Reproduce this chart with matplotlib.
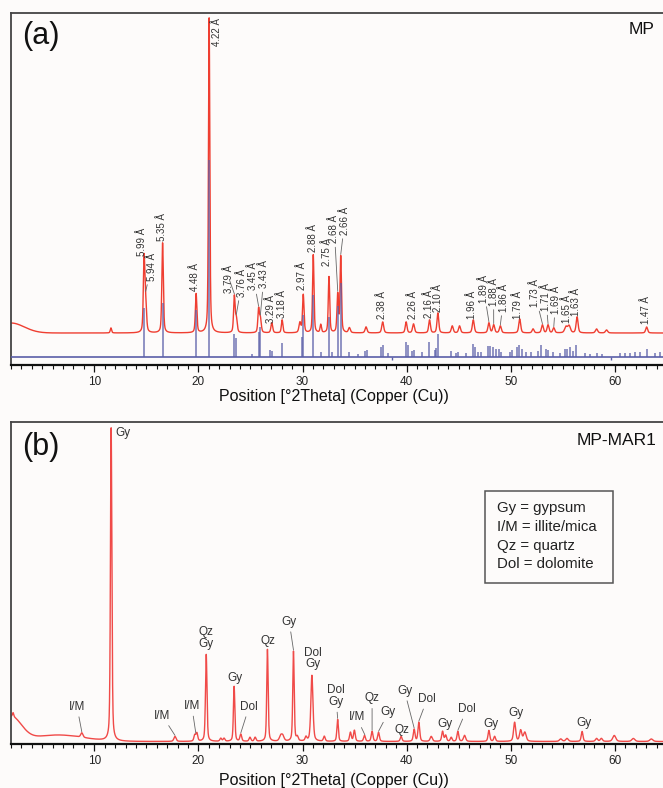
import numpy as np
import matplotlib
matplotlib.use('Agg')
import matplotlib.pyplot as plt
from matplotlib.patches import Rectangle
from matplotlib.ticker import MultipleLocator

plt.rcParams['font.family'] = ['Liberation Sans', 'DejaVu Sans']

W, H = 663, 788
BG = '#fdfbfa'
RED_A = '#ef3e31'
RED_B = '#f04a48'
BLUE = '#5a5ea8'
TXT = '#333333'
LEAD = '#666666'

# ---------------- Panel (a) : MP ----------------
a_base = 32            # red trace baseline (intensity units)
a_bg_pos = [2.0]
a_bg_int = [10]
a_bg_wid = [3.0]
a_peak_pos = [11.6, 14.78, 14.93, 16.56, 19.78, 21.03, 23.45, 23.64, 25.78, 25.95,
              27.05, 28.04, 29.75, 30.07, 31.03, 31.75, 32.54, 33.38, 33.67, 34.5,
              36.1, 37.7, 39.95, 40.66, 42.2, 43.0, 44.38, 45.08, 46.4, 47.9,
              48.36, 49.0, 50.86, 52.14, 53.04, 53.58, 54.13, 55.3, 55.6, 56.37,
              58.24, 59.2, 63.05]
a_peak_int = [5, 72, 28, 90, 39, 315, 36, 14, 23, 14,
              10, 13, 10, 38, 78, 8, 56, 38, 76, 5,
              6, 11, 11, 9, 13, 20, 7, 7, 13, 10,
              8, 7, 14, 4, 8, 8, 5, 6, 7, 16,
              4, 3, 6]
a_peak_wid = [0.15, 0.17, 0.2, 0.17, 0.17, 0.15, 0.17, 0.2, 0.17, 0.2,
              0.2, 0.17, 0.22, 0.17, 0.16, 0.16, 0.16, 0.17, 0.16, 0.22,
              0.22, 0.22, 0.2, 0.22, 0.2, 0.2, 0.22, 0.22, 0.22, 0.22,
              0.22, 0.22, 0.22, 0.22, 0.22, 0.22, 0.22, 0.3, 0.3, 0.22,
              0.25, 0.25, 0.22]

a_stick_base = 8
a_stick_pos = [14.78, 16.56, 19.80, 21.04, 23.45, 23.64, 25.1, 25.80, 25.95, 26.85,
               27.05, 28.04, 29.95, 30.07, 31.03, 31.74, 32.54, 32.8, 33.41, 33.67,
               34.49, 35.3, 36.03, 36.16, 37.54, 37.77, 38.18, 39.9, 40.1, 40.54,
               40.66, 41.49, 42.19, 42.68, 42.84, 43.0, 44.28, 44.76, 44.92, 45.73,
               46.36, 46.52, 46.84, 47.16, 47.8, 48.04, 48.3, 48.6, 48.86, 49.1,
               49.9, 50.16, 50.55, 50.8, 51.03, 51.5, 51.99, 52.6, 52.95, 53.43,
               53.58, 54.07, 54.7, 55.19, 55.41, 55.67, 55.93, 56.31, 57.11, 57.6,
               58.24, 58.72, 60.48, 60.97, 61.45, 61.93, 62.4, 63.05, 63.85, 64.3]
a_stick_int = [49, 54, 47, 197, 23, 19, 3, 25, 30, 7,
               6, 14, 20, 42, 62, 5, 40, 5, 51, 74,
               5, 3, 6, 7, 10, 12, 4, 15, 12, 6,
               7, 5, 15, 7, 9, 23, 6, 4, 5, 4,
               13, 10, 5, 5, 11, 11, 10, 8, 8, 5,
               5, 7, 10, 12, 8, 5, 5, 6, 12, 8,
               7, 5, 4, 8, 8, 10, 6, 12, 4, 3,
               4, 3, 4, 4, 4, 5, 5, 8, 4, 5]
a_sub_pos = [38.6, 59.6]

a_lab_text = ['5.99 Å', '5.94 Å', '5.35 Å', '4.48 Å', '4.22 Å', '3.79 Å', '3.76 Å',
              '3.45 Å', '3.43 Å', '3.29 Å', '3.18 Å', '2.97 Å', '2.88 Å', '2.75 Å',
              '2.68 Å', '2.66 Å', '2.38 Å', '2.26 Å', '2.16 Å', '2.10 Å', '1.96 Å',
              '1.89 Å', '1.88 Å', '1.86 Å', '1.79 Å', '1.73 Å', '1.71 Å', '1.69 Å',
              '1.65 Å', '1.63 Å', '1.47 Å']
a_lab_peak = [14.78, 14.93, 16.56, 19.78, 21.03, 23.45, 23.64, 25.78, 25.95, 27.05,
              28.04, 30.07, 31.03, 32.54, 33.38, 33.67, 37.7, 40.66, 42.2, 43.0,
              46.4, 47.9, 48.36, 49.0, 50.86, 53.04, 53.58, 54.13, 55.45, 56.37, 63.05]
a_lab_tx = [14.54, 15.51, 16.47, 19.67, 21.79, 22.95, 24.17, 25.26, 26.32, 26.96,
            28.02, 29.94, 30.96, 32.31, 33.05, 34.06, 37.64, 40.59, 42.13, 42.99,
            46.3, 47.39, 48.35, 49.32, 50.69, 52.3, 53.36, 54.32, 55.41, 56.31, 62.98]
a_lab_ty = [123, 98.5, 138, 88, 332.5, 86, 82.5, 89, 91, 56.5,
            61.5, 89, 126.5, 112.5, 136, 144.5, 60, 60, 61.5, 67.5,
            60, 76.5, 73.5, 67.5, 60, 72, 68, 65.5, 56.5, 63, 55]
a_lab_lead = [False, True, False, False, False, True, True, True, True, False,
              False, False, False, False, True, True, False, False, False, False,
              False, True, True, True, False, True, True, True, False, False, False]

# ---------------- Panel (b) : MP-MAR1 ----------------
b_base = 2
b_bg_pos = [2.0, 6.5]
b_bg_int = [24, 6.5]
b_bg_wid = [2.35, 5.65]
b_peak_pos = [2.2, 8.8, 11.62, 17.75, 19.65, 19.85, 20.75, 22.15, 22.46, 23.43,
              24.07, 24.95, 25.45, 26.63, 27.9, 28.1, 29.13, 29.5, 30.33, 30.9,
              32.09, 33.37, 34.6, 34.98, 35.95, 36.68, 37.3, 39.47, 40.72, 41.17,
              42.36, 43.45, 43.75, 44.28, 44.92, 45.56, 47.9, 48.45, 50.37, 50.95,
              51.35, 54.8, 55.4, 56.85, 58.24, 58.7, 59.94, 61.77, 63.5]
b_peak_int = [4, 4.5, 313, 5, 6, 8, 87, 3, 3, 55,
              7, 4, 4, 92, 5, 5, 90, 4, 4, 66,
              5, 22, 9, 11, 6, 10, 9, 5, 12, 19,
              5, 10, 6, 4, 10, 6, 11, 5, 19, 11,
              9, 2.5, 3, 10, 3, 3, 6, 3, 2.5]
b_peak_wid = [0.15, 0.25, 0.16, 0.25, 0.2, 0.2, 0.17, 0.2, 0.2, 0.16,
              0.2, 0.2, 0.2, 0.16, 0.3, 0.3, 0.16, 0.2, 0.2, 0.24,
              0.2, 0.17, 0.2, 0.2, 0.2, 0.2, 0.2, 0.2, 0.2, 0.2,
              0.25, 0.2, 0.2, 0.2, 0.2, 0.25, 0.2, 0.2, 0.24, 0.25,
              0.3, 0.3, 0.3, 0.2, 0.25, 0.25, 0.35, 0.35, 0.35]

b_lab_text = ['Gy', 'I/M', 'I/M', 'I/M', 'Qz\nGy', 'Gy', 'Dol', 'Qz', 'Gy', 'Dol\nGy',
              'Dol\nGy', 'I/M', 'Qz', 'Gy', 'Qz', 'Gy', 'Dol', 'Gy', 'Dol', 'Gy',
              'Gy', 'Gy']
b_lab_peak = [11.62, 8.8, 17.75, 19.75, 20.75, 23.43, 24.07, 26.63, 29.13, 30.9,
              33.37, 35.98, 36.68, 37.3, 39.47, 40.72, 41.17, 43.45, 44.92, 47.9,
              50.37, 56.85]
b_lab_tx = [12.74, 8.34, 16.53, 19.36, 20.7, 23.52, 24.87, 26.7, 28.72, 31.03,
            33.21, 35.2, 36.68, 38.25, 39.57, 39.79, 41.97, 43.7, 45.78, 48.13,
            50.54, 57.02]
b_lab_ty = [310.5, 36.8, 27.8, 37.5, 106, 65.2, 36.8, 102.5, 121.8, 85,
            47.5, 26, 45.2, 31.2, 13.5, 52.8, 44.5, 19.5, 34.5, 19.5,
            30.2, 20.2]
b_lab_lead = [False, True, True, True, False, False, True, False, True, False,
              True, True, True, True, False, True, True, False, True, False,
              False, False]

legend_lines = ['Gy = gypsum', 'I/M = illite/mica', 'Qz = quartz', 'Dol = dolomite']

x_min, x_max = 2.0, 64.62
tt = np.arange(x_min, x_max + 0.005, 0.01)


def profile(x, base, bgp, bgi, bgw, pp, pi, pw, eta=0.45):
    y = np.full_like(x, float(base))
    for p, i, w in zip(bgp, bgi, bgw):
        y += i * np.exp(-4 * np.log(2) * ((x - p) / w) ** 2)
    for p, i, w in zip(pp, pi, pw):
        d = (x - p) / w
        y += i * ((1 - eta) * np.exp(-4 * np.log(2) * d ** 2) + eta / (1 + 4 * d ** 2))
    return y


ya = profile(tt, a_base, a_bg_pos, a_bg_int, a_bg_wid, a_peak_pos, a_peak_int, a_peak_wid)
yb = profile(tt, b_base, b_bg_pos, b_bg_int, b_bg_wid, b_peak_pos, b_peak_int, b_peak_wid)

fig = plt.figure(figsize=(W / 100, H / 100), dpi=100, facecolor=BG)


def px_ax(left, top, right, bottom):
    return fig.add_axes([left / W, 1 - bottom / H, (right - left) / W, (bottom - top) / H])


axa = px_ax(11, 13, W, 365)
axb = px_ax(11, 422, W, 743.5)

for ax, ytop in ((axa, 352), (axb, 321.5)):
    ax.set_facecolor(BG)
    ax.set_xlim(x_min, x_max)
    ax.set_ylim(0, ytop)
    ax.spines['right'].set_visible(False)
    for s in ('top', 'left'):
        ax.spines[s].set_color('#444444')
        ax.spines[s].set_linewidth(1.3)
    ax.spines['bottom'].set_color('#111111')
    ax.spines['bottom'].set_linewidth(1.6)
    ax.set_yticks([])
    ax.xaxis.set_major_locator(MultipleLocator(10))
    ax.xaxis.set_minor_locator(MultipleLocator(1))
    ax.tick_params(axis='x', which='major', direction='out', length=5, width=0.9,
                   labelsize=8.5, pad=3, colors='#111111', labelcolor='#222222')
    ax.tick_params(axis='x', which='minor', direction='out', length=3, width=0.8,
                   colors='#111111')

# panel a drawing
axa.plot(tt, ya, color=RED_A, lw=1.0, zorder=2, clip_on=True)
axa.axhline(a_stick_base, color=BLUE, lw=1.2, zorder=3)
axa.vlines(a_stick_pos, a_stick_base, np.array(a_stick_int) + a_stick_base,
           color=BLUE, lw=1.1, alpha=0.85, zorder=3)
axa.vlines(a_sub_pos, a_stick_base - 3, a_stick_base, color=BLUE, lw=1.0, zorder=3)

for t, pk, tx, ty, ld in zip(a_lab_text, a_lab_peak, a_lab_tx, a_lab_ty, a_lab_lead):
    if ld:
        py = np.interp(pk, tt, ya) + 1
        axa.annotate(t, xy=(pk, py), xytext=(tx, ty), rotation=90, ha='center',
                     va='center', fontsize=7, color=TXT,
                     arrowprops=dict(arrowstyle='-', color=LEAD, lw=0.6,
                                     shrinkA=1, shrinkB=0))
    else:
        axa.text(tx, ty, t, rotation=90, ha='center', va='center', fontsize=7,
                 color=TXT)

# panel b drawing
axb.plot(tt, yb, color=RED_B, lw=1.0, zorder=2)
for t, pk, tx, ty, ld in zip(b_lab_text, b_lab_peak, b_lab_tx, b_lab_ty, b_lab_lead):
    if ld:
        py = np.interp(pk, tt, yb) + 1
        axb.annotate(t, xy=(pk, py), xytext=(tx, ty), ha='center', va='center',
                     fontsize=8.5, color=TXT, linespacing=1.0,
                     arrowprops=dict(arrowstyle='-', color=LEAD, lw=0.6,
                                     shrinkA=1, shrinkB=0))
    else:
        axb.text(tx, ty, t, ha='center', va='center', fontsize=8.5, color=TXT,
                 linespacing=1.0)

# panel letters, sample names, axis titles
fig.text(41 / W, 1 - 36 / H, '(a)', fontsize=22, ha='center', va='center', color='#111111')
fig.text(41 / W, 1 - 447 / H, '(b)', fontsize=22, ha='center', va='center', color='#111111')
fig.text(655 / W, 1 - 30 / H, 'MP', fontsize=12.5, ha='right', va='center', color='#111111')
fig.text(657 / W, 1 - 440.7 / H, 'MP-MAR1', fontsize=12.5, ha='right', va='center',
         color='#111111')
xlab = 'Position [°2Theta] (Copper (Cu))'
fig.text(334 / W, 1 - 397 / H, xlab, fontsize=11.5, ha='center', va='center', color='#111111')
fig.text(334 / W, 1 - 780 / H, xlab, fontsize=11.5, ha='center', va='center', color='#111111')

# legend box
fig.patches.append(Rectangle((485 / W, 1 - 583.3 / H), 127.7 / W, 92.6 / H,
                             transform=fig.transFigure, fill=False,
                             edgecolor='#555555', lw=1.1))
for i, line in enumerate(legend_lines):
    fig.text(496.7 / W, 1 - (508.3 + 18.7 * i) / H, line, fontsize=10.8,
             ha='left', va='center', color='#222222')

fig.savefig('out.png', dpi=100, facecolor=BG)
